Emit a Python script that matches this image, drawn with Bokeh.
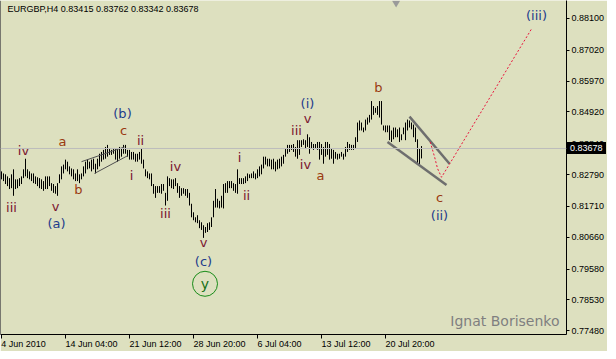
from bokeh.plotting import figure
from bokeh.models import (Range1d, LinearAxis, FixedTicker, PrintfTickFormatter,
                          Span, Label, ColumnDataSource, Div)
from bokeh.layouts import column
from bokeh.core.properties import value
from bokeh.embed import file_html
from bokeh.resources import INLINE

# ---------------- data ----------------
symbol_title = "EURGBP,H4  0.83415 0.83762 0.83342 0.83678"
last_price = 0.83678
last_price_text = "0.83678"

bar_high = [
    0.8290, 0.8283, 0.8280, 0.8273, 0.8267, 0.8280, 0.8297, 0.8263, 0.8263, 0.8267,
    0.8273, 0.8297, 0.8333, 0.8297, 0.8290, 0.8283, 0.8283, 0.8273, 0.8270, 0.8267,
    0.8263, 0.8257, 0.8273, 0.8273, 0.8273, 0.8250, 0.8247, 0.8240, 0.8250, 0.8280,
    0.8307, 0.8313, 0.8330, 0.8323, 0.8307, 0.8300, 0.8297, 0.8283, 0.8297, 0.8280,
    0.8283, 0.8307, 0.8323, 0.8330, 0.8323, 0.8330, 0.8333, 0.8316, 0.8333, 0.8350,
    0.8356, 0.8363, 0.8373, 0.8380, 0.8366, 0.8363, 0.8366, 0.8366, 0.8366, 0.8373,
    0.8366, 0.8380, 0.8380, 0.8363, 0.8363, 0.8356, 0.8356, 0.8350, 0.8350, 0.8356,
    0.8366, 0.8330, 0.8297, 0.8290, 0.8283, 0.8283, 0.8247, 0.8240, 0.8240, 0.8240,
    0.8247, 0.8247, 0.8217, 0.8273, 0.8267, 0.8263, 0.8263, 0.8267, 0.8250, 0.8240,
    0.8233, 0.8233, 0.8230, 0.8230, 0.8217, 0.8180, 0.8151, 0.8134, 0.8141, 0.8124,
    0.8117, 0.8107, 0.8101, 0.8114, 0.8117, 0.8134, 0.8190, 0.8230, 0.8197, 0.8190,
    0.8207, 0.8247, 0.8250, 0.8257, 0.8257, 0.8257, 0.8250, 0.8247, 0.8297, 0.8267,
    0.8267, 0.8267, 0.8273, 0.8283, 0.8280, 0.8283, 0.8290, 0.8283, 0.8297, 0.8307,
    0.8313, 0.8340, 0.8340, 0.8333, 0.8333, 0.8330, 0.8333, 0.8323, 0.8330, 0.8333,
    0.8340, 0.8346, 0.8366, 0.8380, 0.8380, 0.8380, 0.8383, 0.8373, 0.8396, 0.8396,
    0.8396, 0.8399, 0.8396, 0.8416, 0.8406, 0.8390, 0.8383, 0.8383, 0.8390, 0.8390,
    0.8383, 0.8373, 0.8390, 0.8390, 0.8383, 0.8366, 0.8363, 0.8356, 0.8350, 0.8350,
    0.8356, 0.8350, 0.8373, 0.8390, 0.8383, 0.8380, 0.8380, 0.8406, 0.8456, 0.8463,
    0.8456, 0.8439, 0.8466, 0.8473, 0.8482, 0.8529, 0.8512, 0.8506, 0.8512, 0.8529,
    0.8529, 0.8446, 0.8446, 0.8446, 0.8446, 0.8429, 0.8439, 0.8439, 0.8433, 0.8439,
    0.8416, 0.8439, 0.8456, 0.8466, 0.8463, 0.8456, 0.8449, 0.8439, 0.8399, 0.8366,
    0.8376,
]
bar_low = [
    0.8263, 0.8257, 0.8247, 0.8240, 0.8230, 0.8233, 0.8207, 0.8230, 0.8233, 0.8240,
    0.8247, 0.8267, 0.8273, 0.8267, 0.8263, 0.8257, 0.8250, 0.8247, 0.8240, 0.8233,
    0.8230, 0.8224, 0.8230, 0.8230, 0.8240, 0.8224, 0.8217, 0.8214, 0.8207, 0.8250,
    0.8263, 0.8283, 0.8297, 0.8290, 0.8280, 0.8273, 0.8263, 0.8257, 0.8257, 0.8250,
    0.8263, 0.8273, 0.8283, 0.8297, 0.8300, 0.8290, 0.8297, 0.8283, 0.8297, 0.8307,
    0.8323, 0.8330, 0.8333, 0.8340, 0.8346, 0.8346, 0.8350, 0.8330, 0.8323, 0.8333,
    0.8340, 0.8350, 0.8350, 0.8340, 0.8330, 0.8330, 0.8330, 0.8323, 0.8323, 0.8330,
    0.8316, 0.8300, 0.8273, 0.8267, 0.8263, 0.8240, 0.8214, 0.8200, 0.8217, 0.8217,
    0.8214, 0.8224, 0.8174, 0.8190, 0.8240, 0.8233, 0.8230, 0.8240, 0.8217, 0.8200,
    0.8207, 0.8214, 0.8207, 0.8200, 0.8174, 0.8134, 0.8124, 0.8117, 0.8114, 0.8097,
    0.8091, 0.8064, 0.8081, 0.8084, 0.8091, 0.8101, 0.8134, 0.8167, 0.8167, 0.8164,
    0.8167, 0.8164, 0.8217, 0.8217, 0.8233, 0.8233, 0.8224, 0.8217, 0.8214, 0.8247,
    0.8247, 0.8247, 0.8250, 0.8257, 0.8267, 0.8267, 0.8267, 0.8263, 0.8267, 0.8273,
    0.8280, 0.8300, 0.8313, 0.8307, 0.8307, 0.8297, 0.8297, 0.8290, 0.8297, 0.8300,
    0.8307, 0.8316, 0.8340, 0.8350, 0.8356, 0.8363, 0.8356, 0.8340, 0.8333, 0.8346,
    0.8373, 0.8380, 0.8366, 0.8373, 0.8350, 0.8366, 0.8363, 0.8366, 0.8363, 0.8330,
    0.8346, 0.8316, 0.8340, 0.8346, 0.8330, 0.8333, 0.8316, 0.8333, 0.8330, 0.8333,
    0.8340, 0.8330, 0.8340, 0.8356, 0.8363, 0.8363, 0.8363, 0.8366, 0.8390, 0.8429,
    0.8429, 0.8423, 0.8429, 0.8449, 0.8456, 0.8466, 0.8482, 0.8489, 0.8482, 0.8473,
    0.8449, 0.8429, 0.8423, 0.8423, 0.8396, 0.8390, 0.8399, 0.8406, 0.8406, 0.8390,
    0.8396, 0.8416, 0.8396, 0.8429, 0.8439, 0.8433, 0.8406, 0.8390, 0.8316, 0.8313,
    0.8334,
]

date_ticks = [0, 32, 64, 96, 128, 160, 192]
date_labels = ["4 Jun 2010", "14 Jun 04:00", "21 Jun 12:00", "28 Jun 20:00",
               "6 Jul 04:00", "13 Jul 12:00", "20 Jul 20:00"]
price_ticks = [0.77480, 0.78530, 0.79580, 0.80660, 0.81710, 0.82790,
               0.83840, 0.84920, 0.85970, 0.87020, 0.88100]

# Elliott wave labels (bar index, price)
roman_text = ["iii", "iv", "v", "i", "ii", "iii", "iv", "v", "i", "ii", "iii", "v", "iv"]
roman_x = [5, 11, 27, 65, 69.5, 82, 87, 101, 119, 122.5, 147.5, 153, 152]
roman_y = [0.8167, 0.8360, 0.8170, 0.8277, 0.8396, 0.8147, 0.8307, 0.8047,
           0.8336, 0.8207, 0.8429, 0.8469, 0.8313]
abc_text = ["a", "b", "c", "a", "b", "c"]
abc_x = [30.5, 38.5, 61, 159.5, 188.5, 219]
abc_y = [0.8393, 0.8227, 0.8429, 0.8277, 0.8575, 0.8200]
paren_text = ["(a)", "(b)", "(c)", "(i)", "(ii)", "(iii)"]
paren_x = [27.5, 60.5, 101, 153, 219, 267.5]
paren_y = [0.8114, 0.8486, 0.7984, 0.8519, 0.8141, 0.8821]
circled_text = ["y"]
circled_x = [101.75]
circled_y = [0.7908]

# trend lines (bar index, price)
wedge_x0, wedge_y0 = [40, 46.5], [0.8323, 0.8283]
wedge_x1, wedge_y1 = [61.5, 63], [0.8373, 0.8343]
channel_x0, channel_y0 = [204, 193], [0.8476, 0.8390]
channel_x1, channel_y1 = [224, 222.5], [0.8316, 0.8244]
forecast_x = [214.35, 216.5, 218, 220, 265]
forecast_y = [0.8390, 0.8340, 0.8300, 0.8270, 0.8774]

# ---------------- layout ----------------
BG = "#DDE0BF"
FONT = "Liberation Sans"
WAVE_FONT = "DejaVu Sans"
PX_PER_BAR = 2
FRAME_W, FRAME_H = 566, 334
X0 = -0.5
X1 = X0 + FRAME_W / PX_PER_BAR
Y0, Y1 = 0.77357, 0.88707
ppu_y = (Y1 - Y0) / FRAME_H
# approximate rendered widths (px) of the date labels, used to left-align them at their ticks
date_label_px = [44.5, 52, 52, 52, 44, 49, 49]

p = figure(frame_width=FRAME_W, frame_height=FRAME_H,
           x_range=Range1d(X0, X1), y_range=Range1d(Y0, Y1),
           output_backend="svg", toolbar_location=None,
           x_axis_location=None, y_axis_location=None,
           min_border=0, background_fill_color=BG, border_fill_color=BG,
           outline_line_color=None)
p.grid.visible = False

yax = LinearAxis(ticker=FixedTicker(ticks=price_ticks),
                 formatter=PrintfTickFormatter(format="%.5f"),
                 axis_line_color="black", major_tick_line_color="black",
                 major_tick_in=0, major_tick_out=3, minor_tick_line_color=None,
                 major_label_standoff=2, major_label_text_font=FONT,
                 major_label_text_font_size="9px", major_label_text_color="black")
p.add_layout(yax, "right")

# tick marks of the time axis
xax = LinearAxis(ticker=FixedTicker(ticks=date_ticks),
                 axis_line_color="black", major_tick_line_color="black",
                 major_tick_in=0, major_tick_out=4, minor_tick_line_color=None,
                 major_label_overrides={t: "" for t in date_ticks},
                 major_label_text_font_size="0px", major_label_standoff=0)
p.add_layout(xax, "below")

# labels of the time axis, left-aligned at their ticks
label_pos = [round((t + w / (2 * PX_PER_BAR)) * 4) / 4 for t, w in zip(date_ticks, date_label_px)]
xlab = LinearAxis(ticker=FixedTicker(ticks=label_pos),
                  axis_line_color=None, major_tick_line_color=None,
                  major_tick_in=0, major_tick_out=0, minor_tick_line_color=None,
                  major_label_overrides={c: s for c, s in zip(label_pos, date_labels)},
                  major_label_text_font=FONT, major_label_text_font_size="9px",
                  major_label_text_color="black", major_label_standoff=0)
p.add_layout(xlab, "below")

p.add_layout(Span(location=X0, dimension="height", line_color="black", line_width=1))
p.add_layout(Span(location=last_price, dimension="width", line_color="#BDBDBD", line_width=1))

src = ColumnDataSource(dict(i=list(range(len(bar_high))), hi=bar_high, lo=bar_low))
p.segment(x0="i", y0="lo", x1="i", y1="hi", source=src, line_color="black", line_width=1)

p.segment(x0=wedge_x0, y0=wedge_y0, x1=wedge_x1, y1=wedge_y1, line_color="#505050", line_width=1)
p.segment(x0=channel_x0, y0=channel_y0, x1=channel_x1, y1=channel_y1, line_color="#6E6E6E", line_width=2.5)
p.line(forecast_x, forecast_y, line_color="#E8143C", line_width=1, line_dash="2 2")

p.text(roman_x, roman_y, text=roman_text, text_align="center", text_baseline="middle",
       text_font=value(WAVE_FONT), text_font_size="13px", text_color="#7A1530")
p.text(abc_x, abc_y, text=abc_text, text_align="center", text_baseline="middle",
       text_font=value(WAVE_FONT), text_font_size="13px", text_color="#9A3A10")
p.text(paren_x, paren_y, text=paren_text, text_align="center", text_baseline="middle",
       text_font=value(WAVE_FONT), text_font_size="13px", text_color="#1E3C8C")
p.scatter(circled_x, circled_y, marker="circle", size=25, fill_color=None,
          line_color="#198C19", line_width=1)
p.text(circled_x, circled_y, text=circled_text, text_align="center", text_baseline="middle",
       text_font=value(WAVE_FONT), text_font_size="14px", text_color="#167016")

# chart-shift marker
p.scatter([197.3], [Y1 - 2.5 * ppu_y], marker="inverted_triangle", size=8,
          fill_color="#9A9A9A", line_color=None)

p.add_layout(Label(x=3, y=Y1 - 8.5 * ppu_y, text=symbol_title, text_align="left",
                   text_baseline="middle", text_font=FONT, text_font_size="9px",
                   text_color="black"))
p.add_layout(Label(x=X1 - 3.5, y=Y0 + 13.5 * ppu_y, text="Ignat Borisenko", text_align="right",
                   text_baseline="middle", text_font="DejaVu Sans", text_font_size="14px",
                   text_color="#7F7F7F"))

# current-price box on the price scale (positioned over the axis, outside the frame)
sy_box = (Y1 - last_price) / (Y1 - Y0) * FRAME_H
box_div = Div(text=last_price_text,
              styles={"position": "absolute", "left": f"{FRAME_W + 1}px",
                      "top": f"{round(sy_box) - 6}px", "background-color": "black",
                      "color": "white", "font-family": FONT, "font-size": "9px",
                      "line-height": "12px", "height": "12px", "padding": "0px 3px 0px 3px",
                      "margin": "0px", "z-index": "10"})

page = column(p, box_div)
open("out.html", "w").write(file_html(page, INLINE))
